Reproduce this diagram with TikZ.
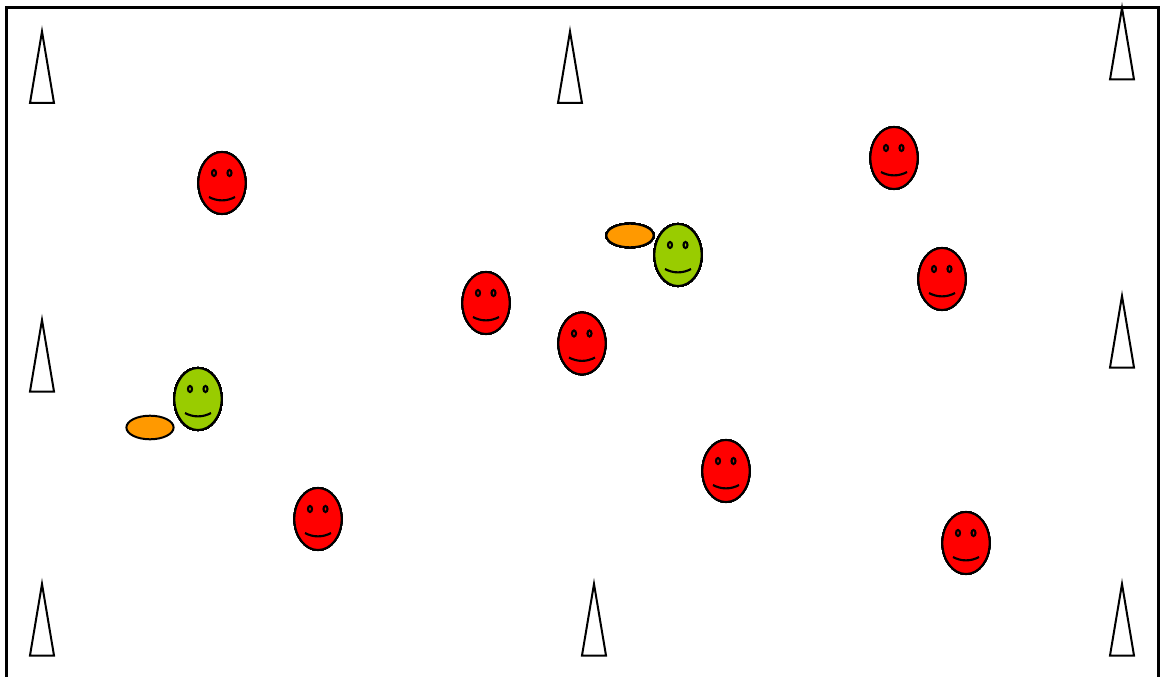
\documentclass[tikz,border=0pt]{standalone}
\usetikzlibrary{calc}
\definecolor{facegreen}{HTML}{99CC00}
\definecolor{ballorange}{HTML}{FF9900}
\tikzset{
  outline/.style={draw=black,line width=1.5pt},
  facedetail/.style={draw=black,line width=1.6pt},
}
% one face, centred at #1, filled with #2
\newcommand{\smiley}[2]{
  \begin{scope}[shift={(#1)}]
    \draw[outline,fill=#2] (0,0) ellipse (23.6 and 31);
    \draw[facedetail] (-8,10) ellipse (2 and 3);
    \draw[facedetail] (7.5,10) ellipse (2 and 3);
    \draw[facedetail] (-13,-14) .. controls (-5,-18.5) and (5,-18.5) .. (13,-14);
  \end{scope}
}
% one cone, #1 is the middle of its base
\newcommand{\marker}[1]{
  \draw[outline,miter limit=10] ($(#1)+(-12,0)$) -- ($(#1)+(0,71.5)$) -- ($(#1)+(12,0)$) -- cycle;
}
\begin{document}
\begin{tikzpicture}[x=0.75pt,y=0.75pt]
  \useasboundingbox (0,0) rectangle (1160,-677);
  \begin{scope}
    \clip (0,0) rectangle (1160,-677);
    \draw[line width=2.4pt] (6.5,-7.5) rectangle (1158.5,-690); % bottom edge is cut off
  \end{scope}
  \foreach \mx/\my in {42/103,570/103,1122/79.5,42/391.5,1122/367.5,42/655.5,594/655.5,1122/655.5}
    \marker{\mx,-\my}
  \foreach \fx/\fy in {222/183,894/158,942/279,486/303,582/343.5,726/471,318/519,966/543}
    \smiley{\fx,-\fy}{red}
  \smiley{678,-255}{facegreen}
  \smiley{198,-399}{facegreen}
  \draw[outline,fill=ballorange] (630,-235.5) ellipse (23.6 and 11.8);
  \draw[outline,fill=ballorange] (150,-427.5) ellipse (23.6 and 11.8);
\end{tikzpicture}
\end{document}
